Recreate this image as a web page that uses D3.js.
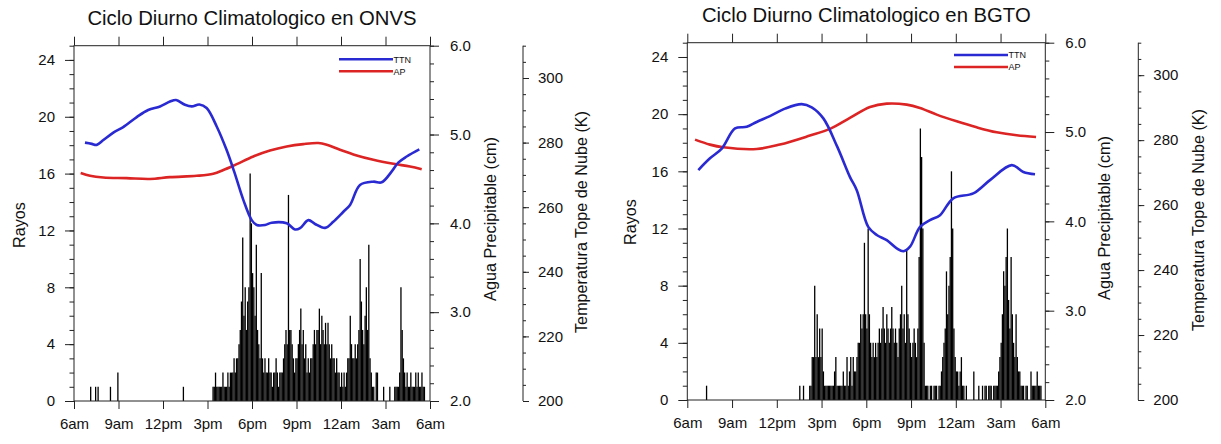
<!DOCTYPE html>
<html>
<head>
<meta charset="utf-8">
<script src="https://cdn.jsdelivr.net/npm/d3@7"></script>
<style>
  body { margin: 0; background: #fff; }
  svg text { font-family: "Liberation Sans", Arial, Helvetica, sans-serif; fill: #111; }
</style>
</head>
<body>
<svg id="chart" width="1221" height="444"></svg>
<script>
// ---- shared axis definitions (hours counted from 06:00, 6 -> 30) ----
const hourTickValues = [6, 9, 12, 15, 18, 21, 24, 27, 30];
const hourTickLabels = ["6am", "9am", "12pm", "3pm", "6pm", "9pm", "12am", "3am", "6am"];
const rayosTicks = [0, 4, 8, 12, 16, 20, 24];
const apTicks = [2.0, 3.0, 4.0, 5.0, 6.0];
const ttnTicks = [200, 220, 240, 260, 280, 300];
const binMinutes = 5;

// ---- ONVS ----
const onvsTitle = "Ciclo Diurno Climatologico en ONVS";
// lightning counts per 5-minute bin, one row per hour starting 06:00
const onvsRayos = [
  0,0,0,0,0,0,0,0,0,0,0,0,
  0,1,0,0,0,1,0,1,0,0,0,0,
  0,0,0,0,0,1,0,0,0,0,0,2,
  0,0,0,0,0,0,0,0,0,0,0,0,
  0,0,0,0,0,0,0,0,0,0,0,0,
  0,0,0,0,0,0,0,0,0,0,0,0,
  0,0,0,0,0,0,0,0,0,0,0,0,
  0,0,0,0,1,0,0,0,0,0,0,0,
  0,0,0,0,0,0,0,0,0,0,0,0,
  0,0,0,0,1,1,2,1,1,1,1,1,
  2,1,1,1,2,1,2,2,2,3,2,3,
  3,4,5,7,11.5,6,8,5,7,8,16,12.5,
  9,8,6,11,5,4,3,9,3,2,3,2,
  2,3,2,2,1,2,2,3,2,1,2,2,
  2,3,4,5,4,14.5,5,5,4,3,2,3,
  3,4,5,6.5,4,5,3,4,2,3,2,3,
  3,4,5,4,5,5,6.5,4,6,5,4,5.5,
  4,5.5,4,3,4,3,3,2,3,2,2,1,
  2,1,2,1,2,3,3,6,4,3,3,4,
  3,4,5,10,7,5,4,6,8,5,11,3,
  2,1,1,0,2,2,0,0,0,0,1,0,
  0,0,0,1,0,0,0,1,1,1,1,2,
  8,5,3,2,1,2,1,1,2,1,1,1,
  2,1,2,1,1,2,1,1,0,0,0,0
];
const onvsTtnHour = [6.74, 7.2, 7.53, 7.98, 8.65, 9.32, 10.23, 11.0, 11.8, 12.47, 12.88, 13.48, 13.94, 14.45, 14.94, 15.62, 16.29, 16.8, 17.42, 17.98, 18.32, 18.88, 19.33, 20.34, 20.9, 21.24, 21.8, 22.25, 22.93, 23.48, 24.16, 24.61, 25.28, 26.18, 26.74, 27.41, 27.86, 28.43, 29.28];
const onvsTtnK    = [280.0, 279.6, 279.3, 280.8, 283.1, 284.8, 287.9, 290.1, 291.2, 292.7, 293.2, 291.7, 291.2, 291.8, 290.7, 285.0, 277.7, 271.0, 262.2, 256.0, 254.5, 254.5, 255.2, 255.0, 253.1, 253.5, 256.0, 254.8, 253.6, 255.5, 258.6, 260.7, 266.9, 267.9, 267.7, 271.0, 273.8, 275.7, 277.9];
const onvsApHour = [6.45, 7.08, 7.98, 9.55, 11.12, 12.47, 14.27, 15.39, 16.07, 16.97, 18.09, 19.21, 20.34, 21.46, 22.47, 23.04, 23.93, 25.06, 26.18, 27.53, 28.65, 29.44];
const onvsApCm   = [4.566, 4.535, 4.516, 4.509, 4.50, 4.52, 4.535, 4.558, 4.60, 4.667, 4.753, 4.82, 4.865, 4.892, 4.904, 4.885, 4.828, 4.764, 4.715, 4.67, 4.64, 4.61];

// ---- BGTO ----
const bgtoTitle = "Ciclo Diurno Climatologico en BGTO";
const bgtoRayos = [
  0,0,0,0,0,0,0,0,0,0,0,0,
  0,0,0,1,0,0,0,0,0,0,0,0,
  0,0,0,0,0,0,0,0,0,0,0,0,
  0,0,0,0,0,0,0,0,0,0,0,0,
  0,0,0,0,0,0,0,0,0,0,0,0,
  0,0,0,0,0,0,0,0,0,0,0,0,
  0,0,0,0,0,0,0,0,0,0,0,0,
  0,0,0,0,0,0,1,0,0,1,0,0,
  0,0,1,1,3,3,8,3,6,3,5,3,
  5,2,1,1,1,1,1,1,1,1,2,3,
  1,1,1,1,1,2,1,1,3,1,2,3,
  1,3,2,2,3,4,4,6,5,6,11,6,
  5,12,6,4,3,4,3,4,3,4,5,4,
  5,6.5,5,4,6,5,4,5,6.5,5,4,5,
  4,3,5,6,8,5,6,4,10.5,6,5,4,
  3,4,5,4,3,5,10,19,17,12,4,1,
  1,1,0,1,1,0,1,1,1,0,1,1,
  2,3,4,5,9,6,8,10,16,12,5,3,
  2,2,1,2,3,1,1,0,1,0,0,0,
  0,0,2,0,0,0,1,0,0,1,0,1,
  1,0,1,1,1,0,1,1,1,1,2,3,
  4,6,9,8,10,12,7,5,10,6,4,3,
  6,3,2,2,1,1,1,0,1,1,0,0,
  2,1,1,1,1,2,1,1,1,0,0,0
];
const bgtoTtnHour = [6.74, 7.52, 8.31, 9.2, 9.98, 10.65, 11.54, 12.55, 13.67, 14.34, 15.12, 16.05, 16.9, 17.36, 18.13, 18.7, 19.37, 20.04, 20.49, 20.93, 21.6, 22.27, 22.94, 23.83, 25.17, 26.29, 27.75, 28.53, 29.31];
const bgtoTtnK    = [270.8, 274.4, 277.4, 283.6, 284.1, 285.6, 287.4, 289.7, 291.1, 290.1, 286.7, 278.0, 268.7, 264.6, 253.3, 250.8, 249.2, 246.7, 245.8, 247.2, 253.3, 255.4, 256.9, 262.1, 263.6, 267.7, 272.3, 270.2, 269.5];
const bgtoApHour = [6.52, 7.52, 8.41, 10.65, 12.21, 14.22, 15.57, 16.9, 18.25, 19.37, 20.71, 21.6, 22.72, 24.06, 25.4, 26.74, 28.08, 29.38];
const bgtoApCm   = [4.915, 4.859, 4.829, 4.81, 4.86, 4.96, 5.035, 5.158, 5.28, 5.318, 5.307, 5.27, 5.195, 5.12, 5.053, 4.997, 4.963, 4.945];

const ttnColor = "#2a2ad2";
const apColor = "#dc2424";
const axisColor = "#222";

const svg = d3.select("#chart");

function styleAxis(g) {
  g.selectAll("path.domain").remove();
  g.selectAll(".tick line").attr("stroke", axisColor).attr("stroke-width", 1);
  g.selectAll(".tick text").attr("font-size", 15).attr("fill", "#111")
    .style("font-family", '"Liberation Sans", Arial, sans-serif');
}

function drawPanel(p) {
  const g = svg.append("g");
  const x = d3.scaleLinear().domain([6, 30]).range([p.left, p.right]);
  const yR = d3.scaleLinear().domain([0, 25]).range([p.bottom, p.top]);
  const yA = d3.scaleLinear().domain([2, 6]).range([p.bottom, p.top]);
  const yT = d3.scaleLinear().domain([200, 310]).range([p.bottom, p.top]);

  // lightning bars, one thin stroke per 5-minute bin
  const bars = p.rayos.map((v, i) => ({ h: 6 + (i + 0.5) * binMinutes / 60, v })).filter(d => d.v > 0);
  g.append("g").selectAll("line").data(bars).join("line")
    .attr("x1", d => x(d.h)).attr("x2", d => x(d.h))
    .attr("y1", yR(0)).attr("y2", d => yR(d.v))
    .attr("stroke", "#000").attr("stroke-width", 1.3);

  // AP and TTN curves
  const curve = d3.curveCatmullRom.alpha(0.5);
  const apLine = d3.line().x(d => x(d[0])).y(d => yA(d[1])).curve(curve);
  const ttnLine = d3.line().x(d => x(d[0])).y(d => yT(d[1])).curve(curve);
  g.append("path").datum(d3.zip(p.apHour, p.apCm)).attr("d", apLine)
    .attr("fill", "none").attr("stroke", apColor).attr("stroke-width", 2.6).attr("stroke-linejoin", "round");
  g.append("path").datum(d3.zip(p.ttnHour, p.ttnK)).attr("d", ttnLine)
    .attr("fill", "none").attr("stroke", ttnColor).attr("stroke-width", 2.6).attr("stroke-linejoin", "round");

  // frame
  g.append("rect").attr("x", p.left).attr("y", p.top)
    .attr("width", p.right - p.left).attr("height", p.bottom - p.top)
    .attr("fill", "none").attr("stroke", axisColor).attr("stroke-width", 1);

  // bottom and top time axes
  g.append("g").attr("transform", `translate(0,${p.bottom})`)
    .call(d3.axisBottom(x).tickValues(hourTickValues).tickFormat((d, i) => hourTickLabels[i]).tickSize(8).tickPadding(9))
    .call(styleAxis);
  g.append("g").attr("transform", `translate(0,${p.top})`)
    .call(d3.axisTop(x).tickValues(hourTickValues).tickFormat("").tickSize(9))
    .call(styleAxis);

  // left: Rayos
  g.append("g").attr("transform", `translate(${p.left},0)`)
    .call(d3.axisLeft(yR).tickValues(d3.range(0, 26, 1)).tickFormat("").tickSize(4.5))
    .call(styleAxis);
  g.append("g").attr("transform", `translate(${p.left},0)`)
    .call(d3.axisLeft(yR).tickValues(rayosTicks).tickFormat(d3.format("d")).tickSize(9).tickPadding(10))
    .call(styleAxis);

  // inner right: Agua Precipitable
  g.append("g").attr("transform", `translate(${p.right},0)`)
    .call(d3.axisRight(yA).tickValues(d3.range(2, 6.01, 0.2)).tickFormat("").tickSize(4))
    .call(styleAxis);
  g.append("g").attr("transform", `translate(${p.right},0)`)
    .call(d3.axisRight(yA).tickValues(apTicks).tickFormat(d3.format(".1f")).tickSize(9).tickPadding(11))
    .call(styleAxis);

  // outer right: Temperatura Tope de Nube
  const outer = g.append("g").attr("transform", `translate(${p.outer},0)`);
  outer.append("line").attr("x1", 0).attr("x2", 0).attr("y1", p.top).attr("y2", p.bottom)
    .attr("stroke", axisColor).attr("stroke-width", 1);
  outer.append("g")
    .call(d3.axisRight(yT).tickValues(d3.range(200, 311, 5)).tickFormat("").tickSize(3))
    .call(styleAxis);
  outer.append("g")
    .call(d3.axisRight(yT).tickValues(ttnTicks).tickFormat(d3.format("d")).tickSize(6).tickPadding(9))
    .call(styleAxis);

  // titles
  const mid = (p.left + p.right) / 2;
  g.append("text").attr("x", mid).attr("y", p.titleY).attr("text-anchor", "middle")
    .attr("font-size", 20.3).text(p.title);
  g.append("text").attr("transform", `translate(${p.rayosX},${p.rayosY}) rotate(-90)`)
    .attr("text-anchor", "middle").attr("font-size", 16.2).text("Rayos");
  g.append("text").attr("transform", `translate(${p.apX},${p.apY}) rotate(-90)`)
    .attr("text-anchor", "middle").attr("font-size", 16.2).text("Agua Precipitable (cm)");
  g.append("text").attr("transform", `translate(${p.ttnX},${p.ttnY}) rotate(-90)`)
    .attr("text-anchor", "middle").attr("font-size", 16.2).text("Temperatura Tope de Nube (K)");

  // legend
  const items = [{ name: "TTN", color: ttnColor, y: p.legendY }, { name: "AP", color: apColor, y: p.legendY + 12 }];
  const lg = g.append("g");
  items.forEach(it => {
    lg.append("line").attr("x1", p.legendX).attr("x2", p.legendX + 54)
      .attr("y1", it.y).attr("y2", it.y).attr("stroke", it.color).attr("stroke-width", 2.4);
    lg.append("text").attr("x", p.legendX + 54.5).attr("y", it.y + 3.3)
      .attr("font-size", 9).text(it.name);
  });
}

drawPanel({
  title: onvsTitle, rayos: onvsRayos,
  ttnHour: onvsTtnHour, ttnK: onvsTtnK, apHour: onvsApHour, apCm: onvsApCm,
  left: 74, right: 430, top: 45.7, bottom: 401, outer: 523,
  titleY: 25, rayosX: 25, rayosY: 225, apX: 495.5, apY: 219, ttnX: 587, ttnY: 222,
  legendX: 339, legendY: 59.3
});

drawPanel({
  title: bgtoTitle, rayos: bgtoRayos,
  ttnHour: bgtoTtnHour, ttnK: bgtoTtnK, apHour: bgtoApHour, apCm: bgtoApCm,
  left: 687.3, right: 1045.3, top: 42.7, bottom: 400, outer: 1138.3,
  titleY: 22, rayosX: 636, rayosY: 222, apX: 1109.5, apY: 218, ttnX: 1203.5, ttnY: 220,
  legendX: 954, legendY: 55
});
</script>
</body>
</html>
